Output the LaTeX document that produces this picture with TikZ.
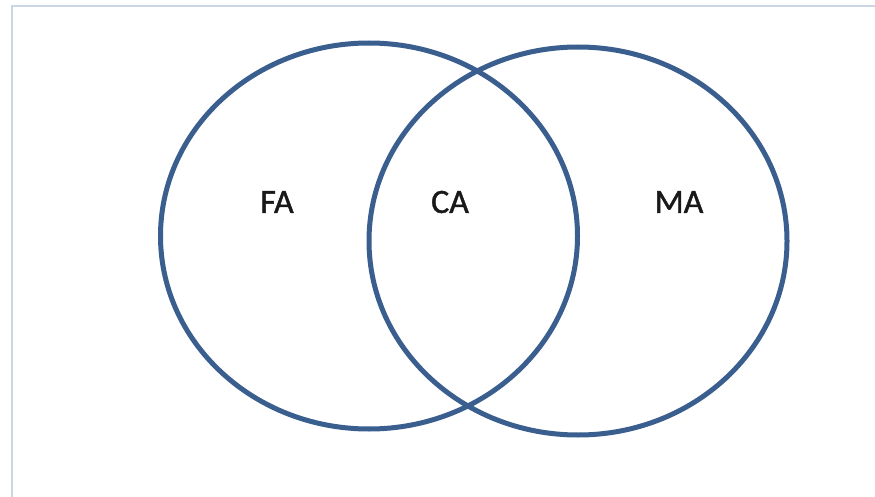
\documentclass[tikz,border=0pt]{standalone}
\usepackage{fontspec}
\setmainfont{Carlito}
\newfontfamily\labelfont[FakeBold=1.2]{Carlito}
\usetikzlibrary{shapes.geometric}
\definecolor{ring}{HTML}{3A5F8E}
\definecolor{frame}{HTML}{CCD5E5}
\begin{document}
\begin{tikzpicture}[x=1pt,y=-1pt,
  setring/.style={draw=ring,line width=5pt,ellipse,inner sep=0pt},
  setlabel/.style={font=\labelfont\fontsize{34}{40}\selectfont,text=black!90}]
\useasboundingbox[fill=white] (0,0) rectangle (875,497);
\draw[frame,line width=2.5pt] (12,497) -- (12,6) -- (875,6);
\node[setring,minimum width=417pt,minimum height=386pt] (F) at (369,236) {};
\node[setring,minimum width=418pt,minimum height=388pt] (M) at (578,241) {};
\node[setlabel] (fa) at (277,202) {FA};
\node[setlabel] (ca) at (450,202) {CA};
\node[setlabel] (ma) at (679,202) {MA};
\end{tikzpicture}
\end{document}
